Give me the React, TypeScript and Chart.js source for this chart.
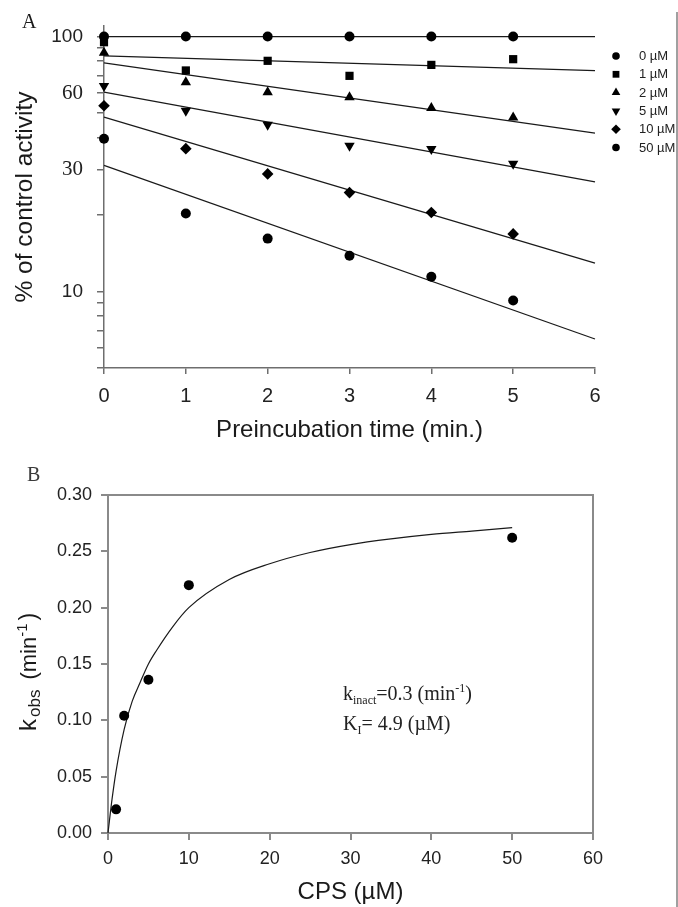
import React, { useEffect, useRef } from 'react';
import { Chart, registerables } from 'chart.js';

Chart.register(...registerables);

// ---------- Panel A data ----------
const timeMin = [0, 1, 2, 3, 4, 5];
const activity0uM = [100, 100, 100, 100, 100, 100];
const activity1uM = [95, 73.6, 80.3, 70.1, 77.4, 81.5];
const activity2uM = [86.3, 66.2, 60.5, 57.8, 52.4, 48.1];
const activity5uM = [64, 51.1, 45.1, 37.3, 36.2, 31.7];
const activity10uM = [53.5, 36.3, 28.9, 24.4, 20.4, 16.8];
const activity50uM = [39.7, 20.2, 16.1, 13.8, 11.4, 9.2];

const fitTime = [0, 6];
const fit0uM = [100, 100];
const fit1uM = [84.0, 73.5];
const fit2uM = [78.8, 41.8];
const fit5uM = [60.5, 26.9];
const fit10uM = [48.3, 12.9];
const fit50uM = [31.2, 6.5];

const seriesLabels = ['0 µM', '1 µM', '2 µM', '5 µM', '10 µM', '50 µM'];
const logTickValues = [5, 6, 7, 8, 9, 10, 20, 30, 40, 50, 60, 70, 80, 90, 100];
const logLabelValues = [10, 30, 60, 100];
const serifLabelValues = [30, 60];

// ---------- Panel B data ----------
const cpsConc = [1, 2, 5, 10, 50];
const kobsObserved = [0.021, 0.104, 0.136, 0.22, 0.262];
const curveConc = [0, 0.5, 1, 2, 3, 4, 5, 6, 8, 10, 15, 20, 25, 30, 35, 40, 45, 50];
const curveKobs = [0, 0.03, 0.055, 0.092, 0.117, 0.134, 0.15, 0.162, 0.183, 0.2, 0.225, 0.239, 0.249, 0.256, 0.261, 0.265, 0.268, 0.271];

// ---------- styles ----------
const SANS = "'Liberation Sans', Arial, sans-serif";
const SERIF = "'Liberation Serif', 'Times New Roman', serif";
const AXIS_GRAY = '#6e6e6e';
const BOX_GRAY = '#8a8a8a';

const markerStyles = [
  { pointStyle: 'circle', radius: 5, rotation: 0 },
  { pointStyle: 'rect', radius: 5.8, rotation: 0 },
  { pointStyle: 'triangle', radius: 6, rotation: 0 },
  { pointStyle: 'triangle', radius: 6, rotation: 180 },
  { pointStyle: 'rectRot', radius: 5.8, rotation: 0 },
  { pointStyle: 'circle', radius: 5, rotation: 0 },
];

type Part = { text: string; size: number; dy: number; family: string; gap?: number };

function drawParts(ctx: CanvasRenderingContext2D, parts: Part[], x: number, y: number, color: string) {
  let cx = x;
  ctx.fillStyle = color;
  ctx.textAlign = 'left';
  ctx.textBaseline = 'alphabetic';
  for (const p of parts) {
    cx += p.gap || 0;
    ctx.font = `${p.size}px ${p.family}`;
    ctx.fillText(p.text, cx, y + p.dy);
    cx += ctx.measureText(p.text).width;
  }
}

function drawMarker(ctx: CanvasRenderingContext2D, style: string, rot: number, x: number, y: number, r: number) {
  ctx.beginPath();
  if (style === 'circle') {
    ctx.arc(x, y, r, 0, Math.PI * 2);
  } else if (style === 'rect') {
    const h = r * Math.SQRT1_2;
    ctx.rect(x - h, y - h, 2 * h, 2 * h);
  } else if (style === 'rectRot') {
    ctx.moveTo(x, y - r);
    ctx.lineTo(x + r, y);
    ctx.lineTo(x, y + r);
    ctx.lineTo(x - r, y);
    ctx.closePath();
  } else if (style === 'triangle') {
    let a = (rot * Math.PI) / 180;
    ctx.moveTo(x + Math.sin(a) * r, y - Math.cos(a) * r);
    a += (2 * Math.PI) / 3;
    ctx.lineTo(x + Math.sin(a) * r, y - Math.cos(a) * r);
    a += (2 * Math.PI) / 3;
    ctx.lineTo(x + Math.sin(a) * r, y - Math.cos(a) * r);
    ctx.closePath();
  }
  ctx.fill();
}

const legendRadius = [3.8, 4.8, 5, 5, 4.8, 3.8];

const panelAPlugin = {
  id: 'panelAExtras',
  afterDraw(chart: any) {
    const ctx: CanvasRenderingContext2D = chart.ctx;
    ctx.save();
    ctx.fillStyle = '#1a1a1a';
    ctx.font = `20px ${SERIF}`;
    ctx.textAlign = 'left';
    ctx.textBaseline = 'alphabetic';
    ctx.fillText('A', 22, 28);
    for (let i = 0; i < seriesLabels.length; i++) {
      const y = 56 + i * 18.3;
      ctx.fillStyle = '#000';
      drawMarker(ctx, markerStyles[i].pointStyle, markerStyles[i].rotation, 616, y, legendRadius[i]);
      ctx.fillStyle = '#222';
      ctx.font = `13px ${SANS}`;
      ctx.textBaseline = 'middle';
      ctx.fillText(seriesLabels[i], 639, y + 0.5);
    }
    ctx.restore();
  },
};

const panelBPlugin = {
  id: 'panelBExtras',
  beforeDatasetsDraw(chart: any) {
    const ctx: CanvasRenderingContext2D = chart.ctx;
    const a = chart.chartArea;
    ctx.save();
    ctx.strokeStyle = BOX_GRAY;
    ctx.lineWidth = 2;
    ctx.beginPath();
    ctx.moveTo(a.left, a.top);
    ctx.lineTo(a.right, a.top);
    ctx.lineTo(a.right, a.bottom);
    ctx.stroke();
    ctx.restore();
  },
  afterDraw(chart: any) {
    const ctx: CanvasRenderingContext2D = chart.ctx;
    ctx.save();
    ctx.fillStyle = '#3a3a3a';
    ctx.font = `20px ${SERIF}`;
    ctx.textAlign = 'left';
    ctx.textBaseline = 'alphabetic';
    ctx.fillText('B', 27, 26);
    drawParts(
      ctx,
      [
        { text: 'k', size: 20, dy: 0, family: SERIF },
        { text: 'inact', size: 12, dy: 4, family: SERIF },
        { text: '=0.3 (min', size: 20, dy: 0, family: SERIF },
        { text: '-1', size: 12, dy: -8, family: SERIF },
        { text: ')', size: 20, dy: 0, family: SERIF },
      ],
      343,
      245,
      '#222'
    );
    drawParts(
      ctx,
      [
        { text: 'K', size: 20, dy: 0, family: SERIF },
        { text: 'I', size: 12, dy: 4, family: SERIF },
        { text: '= 4.9 (µM)', size: 20, dy: 0, family: SERIF },
      ],
      343,
      275,
      '#222'
    );
    ctx.translate(36, 276);
    ctx.rotate(-Math.PI / 2);
    drawParts(
      ctx,
      [
        { text: 'k', size: 24, dy: 0, family: SANS },
        { text: 'obs', size: 17, dy: 4, family: SANS, gap: 2 },
        { text: '(min', size: 22, dy: 0, family: SANS, gap: 10 },
        { text: '-1', size: 15, dy: -9, family: SANS },
        { text: ')', size: 23, dy: 0, family: SANS, gap: 3 },
      ],
      0,
      0,
      '#1a1a1a'
    );
    ctx.restore();
  },
};

function axisCommon(tickLength: number, color: string, width: number) {
  return {
    grid: { display: true, drawOnChartArea: false, drawTicks: true, tickLength, color, lineWidth: width },
    border: { display: true, color, width },
  };
}

function PanelA() {
  const ref = useRef<HTMLCanvasElement>(null);
  useEffect(() => {
    const activitySeries = [activity0uM, activity1uM, activity2uM, activity5uM, activity10uM, activity50uM];
    const fitSeries = [fit0uM, fit1uM, fit2uM, fit5uM, fit10uM, fit50uM];
    const datasets: any[] = [
      ...activitySeries.map((vals, i) => ({
        label: seriesLabels[i],
        data: timeMin.map((t, j) => ({ x: t, y: vals[j] })),
        pointStyle: markerStyles[i].pointStyle,
        pointRadius: markerStyles[i].radius,
        pointRotation: markerStyles[i].rotation,
        pointBackgroundColor: '#000',
        pointBorderColor: '#000',
        pointBorderWidth: 0,
        showLine: false,
        clip: false,
      })),
      ...fitSeries.map((vals, i) => ({
        label: seriesLabels[i] + ' fit',
        data: fitTime.map((t, j) => ({ x: t, y: vals[j] })),
        showLine: true,
        pointRadius: 0,
        borderColor: '#1a1a1a',
        borderWidth: 1.2,
        fill: false,
        clip: false,
      })),
    ];
    const chart = new Chart(ref.current as HTMLCanvasElement, {
      type: 'scatter',
      data: { datasets },
      plugins: [panelAPlugin],
      options: {
        animation: false,
        responsive: false,
        events: [],
        layout: { padding: { left: 0, right: 83, top: 26, bottom: 0 } },
        plugins: { legend: { display: false }, tooltip: { enabled: false } },
        scales: {
          x: {
            type: 'linear',
            min: 0,
            max: 6,
            ...axisCommon(6, AXIS_GRAY, 1.5),
            ticks: { stepSize: 1, color: '#222', padding: 10, font: { family: SANS, size: 20 } },
            title: {
              display: true,
              text: 'Preincubation time (min.)',
              color: '#1a1a1a',
              font: { family: SANS, size: 24 },
              padding: { top: 0, bottom: 10 },
            },
            afterFit: (s: any) => {
              s.height = 87;
            },
          },
          y: {
            type: 'logarithmic',
            min: 5,
            max: 110,
            ...axisCommon(7, AXIS_GRAY, 1.5),
            afterBuildTicks: (s: any) => {
              s.ticks = logTickValues.map((v) => ({ value: v }));
            },
            ticks: {
              autoSkip: false,
              color: '#222',
              padding: 14,
              callback: (v: any) => (logLabelValues.includes(Number(v)) ? String(v) : ''),
              font: (c: any) => {
                const v = c && c.tick ? Number(c.tick.value) : 0;
                return serifLabelValues.includes(v)
                  ? { family: SERIF, size: 21 }
                  : { family: SANS, size: 19 };
              },
            },
            title: {
              display: true,
              text: '% of control activity',
              color: '#1a1a1a',
              font: { family: SANS, size: 24.5 },
              padding: { top: 11, bottom: 0 },
            },
            afterFit: (s: any) => {
              s.width = 104;
            },
          },
        },
      } as any,
    });
    return () => chart.destroy();
  }, []);
  return (
    <canvas
      ref={ref}
      width={678}
      height={455}
      style={{ position: 'absolute', left: 0, top: 0, width: 678, height: 455, display: 'block' }}
    />
  );
}

function PanelB() {
  const ref = useRef<HTMLCanvasElement>(null);
  useEffect(() => {
    const datasets: any[] = [
      {
        label: 'kobs',
        data: cpsConc.map((c, i) => ({ x: c, y: kobsObserved[i] })),
        pointStyle: 'circle',
        pointRadius: 5,
        pointBackgroundColor: '#000',
        pointBorderColor: '#000',
        pointBorderWidth: 0,
        showLine: false,
        clip: false,
      },
      {
        label: 'fit',
        data: curveConc.map((c, i) => ({ x: c, y: curveKobs[i] })),
        showLine: true,
        pointRadius: 0,
        borderColor: '#1a1a1a',
        borderWidth: 1.2,
        cubicInterpolationMode: 'monotone',
        fill: false,
        clip: false,
      },
    ];
    const chart = new Chart(ref.current as HTMLCanvasElement, {
      type: 'scatter',
      data: { datasets },
      plugins: [panelBPlugin],
      options: {
        animation: false,
        responsive: false,
        events: [],
        layout: { padding: { left: 0, right: 85, top: 40, bottom: 0 } },
        plugins: { legend: { display: false }, tooltip: { enabled: false } },
        scales: {
          x: {
            type: 'linear',
            min: 0,
            max: 60,
            ...axisCommon(7, BOX_GRAY, 2),
            ticks: { stepSize: 10, color: '#222', padding: 8, font: { family: SANS, size: 18 } },
            title: {
              display: true,
              text: 'CPS (µM)',
              color: '#1a1a1a',
              font: { family: SANS, size: 24 },
              padding: { top: 0, bottom: 0 },
            },
            afterFit: (s: any) => {
              s.height = 74;
            },
          },
          y: {
            type: 'linear',
            min: 0,
            max: 0.3,
            ...axisCommon(7, BOX_GRAY, 2),
            ticks: {
              stepSize: 0.05,
              color: '#222',
              padding: 9,
              font: { family: SANS, size: 18 },
              callback: (v: any) => Number(v).toFixed(2),
            },
            title: { display: false },
            afterFit: (s: any) => {
              s.width = 108;
            },
          },
        },
      } as any,
    });
    return () => chart.destroy();
  }, []);
  return (
    <canvas
      ref={ref}
      width={678}
      height={452}
      style={{ position: 'absolute', left: 0, top: 455, width: 678, height: 452, display: 'block' }}
    />
  );
}

export default function App() {
  return (
    <div
      style={{
        position: 'absolute',
        left: 0,
        top: 0,
        width: 678,
        height: 907,
        background: '#fff',
        overflow: 'hidden',
      }}
    >
      <PanelA />
      <PanelB />
      <div
        style={{ position: 'absolute', left: 676, top: 12, width: 2, height: 895, background: '#a0a0a0' }}
      />
    </div>
  );
}
